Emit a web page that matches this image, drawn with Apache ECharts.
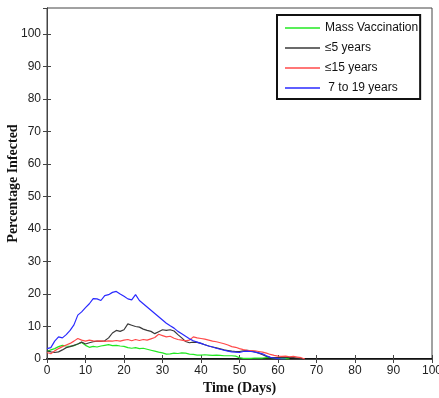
<!DOCTYPE html>
<html>
<head>
<meta charset="utf-8">
<script src="https://cdn.jsdelivr.net/npm/echarts@6/dist/echarts.min.js"></script>
<style>
html,body{margin:0;padding:0;background:#fff;}
#chart{width:439px;height:398px;}
</style>
</head>
<body>
<div id="chart"></div>
<script>
var seriesNames = ['Mass Vaccination', '\u22645 years', '\u226415 years', ' 7 to 19 years'];
var xTicks = [0, 10, 20, 30, 40, 50, 60, 70, 80, 90, 100];
var yTicks = [0, 10, 20, 30, 40, 50, 60, 70, 80, 90, 100];

var massVaccination = [2.3,2.8,3.2,3.8,4.2,4.0,3.9,4.1,4.6,5.1,4.2,3.6,3.9,3.7,4.0,4.2,4.4,4.1,4.2,4.0,3.9,3.5,3.3,3.5,3.2,3.3,3.0,2.7,2.4,2.1,1.9,1.5,1.6,1.8,1.7,1.9,1.8,1.5,1.4,1.2,1.2,1.3,1.2,1.1,1.2,1.1,1.0,1.0,1.0,0.9,0.4,0.2,0.2,0.2,0.3,0.3,0.3,0.4,0.4,0.3,0.2,0.1,0.1,0];
var under5 = [2.5,2.2,2.0,2.2,2.8,3.5,3.8,4.2,4.6,5.2,4.6,5.0,5.3,5.5,5.4,5.6,6.5,8.0,8.8,8.5,9.0,10.8,10.4,10.0,9.8,9.2,8.8,8.5,7.8,8.4,9.0,8.8,9.0,8.6,7.5,6.5,5.4,5.0,5.2,5.1,4.8,4.4,4.0,3.7,3.4,3.1,2.8,2.6,2.4,2.3,2.3,2.5,2.7,2.5,2.2,1.8,1.3,0.8,0.5,0.4,0.4,0.5,0.6,0.5,0.4,0.3,0.2];
var under15 = [2.0,1.6,2.5,3.2,3.8,4.3,4.8,5.5,6.3,5.8,5.5,5.8,5.6,5.5,5.6,5.4,5.6,5.5,5.7,5.5,5.8,6.0,5.6,6.0,5.7,6.0,5.8,6.2,6.6,7.6,7.2,6.8,7.0,6.4,6.0,5.8,5.6,5.8,6.8,6.5,6.3,6.1,5.8,5.5,5.3,5.0,4.7,4.3,3.8,3.6,3.2,2.9,2.7,2.6,2.5,2.3,2.1,1.8,1.4,1.1,0.9,0.8,0.9,0.7,0.8,0.6,0.4,0];
var age7to19 = [3.2,3.5,5.5,6.8,6.5,7.5,8.8,10.5,13.5,14.5,15.8,17.0,18.6,18.5,18.0,19.5,19.8,20.5,20.8,20.0,19.3,18.5,18.2,19.8,18.0,17.0,16.0,15.0,14.0,13.0,12.0,11.0,10.2,9.5,8.5,7.8,7.0,6.2,5.6,5.2,4.8,4.4,4.0,3.7,3.3,3.0,2.7,2.4,2.2,2.1,2.0,2.3,2.4,2.3,2.1,1.9,1.6,1.0,0.5,0.3,0.1,0,0];

function toPairs(arr){ return arr.map(function(v,i){ return [i, v]; }); }

var colors = ['#22e822', '#3a3a3a', '#ff4a4a', '#2a2aff'];
var dataSets = [massVaccination, under5, under15, age7to19];

var chart = echarts.init(document.getElementById('chart'), null, {renderer:'canvas'});
var tickFont = {fontFamily:'Liberation Sans, Arial', fontSize:12, color:'#222'};
chart.setOption({
  animation:false,
  backgroundColor:'#fff',
  grid:{left:47, right:7, top:8, bottom:39, containLabel:false, outerBoundsMode:'none', show:true, borderColor:'#444', borderWidth:1},
  legend:{
    show:true,
    data:seriesNames.map(function(n){ return {name:n, icon:'rect'}; }),
    orient:'vertical',
    left:277, top:15,
    padding:[6,2,4,8],
    itemGap:6,
    itemWidth:35, itemHeight:1.5,
    backgroundColor:'#fff',
    borderColor:'#111', borderWidth:2, borderRadius:0,
    textStyle:{fontFamily:'Liberation Sans, Arial', fontSize:12, color:'#111', lineHeight:14}
  },
  xAxis:[{
    type:'value', min:0, max:100, interval:10,
    name:'Time (Days)', nameLocation:'middle', nameGap:22, nameMoveOverlap:false,
    nameTextStyle:{fontFamily:'Liberation Serif, Times New Roman', fontWeight:'bold', fontSize:14, color:'#111', verticalAlign:'top'},
    axisLine:{show:true, lineStyle:{color:'#111', width:2}},
    axisTick:{show:true, inside:true, length:4, lineStyle:{color:'#444'}},
    axisLabel:Object.assign({margin:6, formatter:function(v){ return xTicks.indexOf(v)>=0 ? String(v) : ''; }}, tickFont),
    splitLine:{show:false}
  },{
    type:'value', min:0, max:100, interval:10, position:'top',
    axisLine:{show:true, lineStyle:{color:'#444', width:1}},
    axisTick:{show:true, inside:true, length:4, lineStyle:{color:'#444'}},
    axisLabel:{show:false}, splitLine:{show:false}
  }],
  yAxis:[{
    type:'value', min:0, max:108, interval:10,
    name:'Percentage Infected', nameLocation:'middle', nameGap:27, nameMoveOverlap:false,
    nameTextStyle:{fontFamily:'Liberation Serif, Times New Roman', fontWeight:'bold', fontSize:14, color:'#111', verticalAlign:'bottom'},
    axisLine:{show:true, lineStyle:{color:'#444', width:1}},
    axisTick:{show:true, inside:true, length:4, lineStyle:{color:'#444'}},
    axisLabel:Object.assign({margin:6, showMaxLabel:false, formatter:function(v){ return yTicks.indexOf(v)>=0 ? String(v) : ''; }}, tickFont),
    splitLine:{show:false}
  },{
    type:'value', min:0, max:108, interval:10, position:'right',
    axisLine:{show:true, lineStyle:{color:'#444', width:1}},
    axisTick:{show:true, inside:true, length:4, lineStyle:{color:'#444'}},
    axisLabel:{show:false}, splitLine:{show:false}
  }],
  series:dataSets.map(function(d,i){
    return {
      name:seriesNames[i], type:'line', xAxisIndex:0, yAxisIndex:0,
      data:toPairs(d), symbol:'none', showSymbol:false,
      lineStyle:{color:colors[i], width:1.2}, itemStyle:{color:colors[i]},
      z: 2+i
    };
  })
});
</script>
</body>
</html>
